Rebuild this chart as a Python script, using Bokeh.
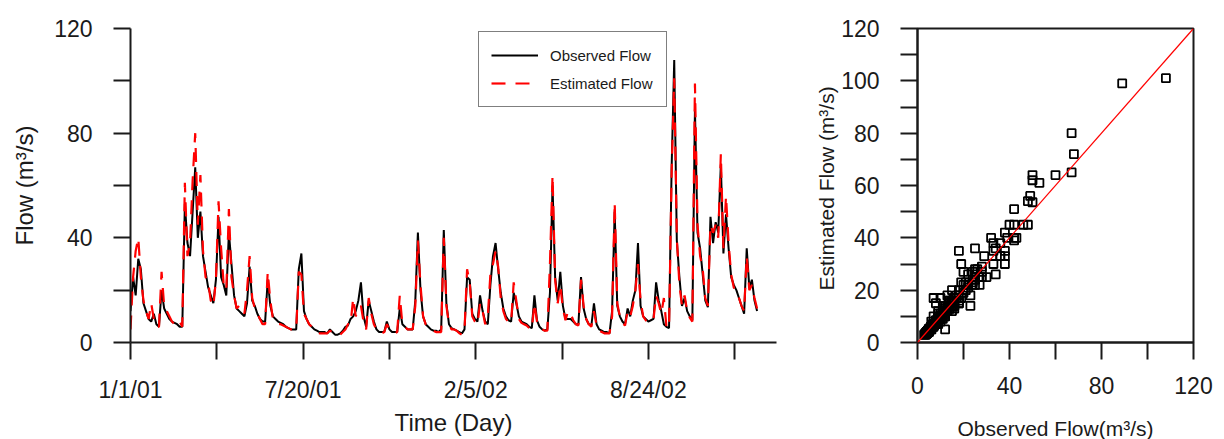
from bokeh.plotting import figure
from bokeh.layouts import row
from bokeh.models import FixedTicker, Legend, LegendItem, ColumnDataSource, Range1d, Slope
from bokeh.embed import file_html
from bokeh.resources import INLINE

# ---------------- data ----------------
# day index (days since 1/1/01), sampled every 3 days
day = [3 * k for k in range(243)]

observed = [
    12, 25, 18, 32, 28, 15, 12, 9, 8, 11,
    7, 6, 20, 13, 11, 9, 8, 7.5, 7, 6,
    6, 53, 38, 33, 50, 67, 40, 50, 33, 27,
    21, 18, 15, 24, 48, 25, 22, 18, 42, 30,
    18, 13, 12, 11, 10, 15, 29, 16, 14, 11,
    9, 8, 8, 24, 14, 10, 9, 8, 7.5, 7,
    6, 5.5, 5, 5, 5, 28, 34, 12, 9, 7,
    6, 5, 4.5, 4, 4, 4, 3.5, 5, 4, 3,
    3, 3.5, 4.5, 6, 6.5, 9, 10, 12, 16, 23,
    10, 6, 16, 12, 8, 5, 4, 4, 4, 8,
    5, 4, 4, 4, 13, 7, 6, 5, 5, 5,
    16, 42, 20, 10, 7, 6, 5, 4.5, 4.5, 4,
    5, 43, 15, 7, 5.5, 5, 4.5, 4, 3.5, 5,
    25, 24, 11, 9, 8, 18, 12, 8, 7, 22,
    33, 38, 28, 19, 13, 10, 8.5, 8, 19, 15,
    10, 8, 7.5, 7, 6, 5.5, 18, 8.5, 6, 5,
    4.5, 5, 19, 60, 25, 16, 27, 14, 9, 9,
    9, 8, 7, 7, 25, 13, 9, 7, 6.5, 15,
    7, 5, 4.5, 4, 4, 3.5, 12, 50, 14, 10,
    8, 7, 13, 10, 16, 20, 38, 14, 10, 9,
    8, 8.5, 9, 23, 16, 12, 7, 6, 5.5, 67,
    108, 39, 25, 14, 17, 12, 10, 8.5, 89, 42,
    36, 26, 16, 13.5, 48, 38, 46, 42, 68, 34,
    49, 36, 25, 22, 20, 17, 14, 11, 36, 21,
    24, 16, 12,
]

estimated = [
    5, 25, 35, 40, 25, 16, 12, 9, 15, 9,
    6, 6, 27, 14, 12, 10, 8, 7, 6.5, 8,
    6, 61, 33, 38, 62, 80, 45, 64, 35, 25,
    23, 16, 14, 24, 54, 36, 22, 20, 51, 25,
    18, 13, 14, 14, 11, 20, 33, 17, 13, 11,
    9, 7, 7, 27, 16, 9, 8, 7, 7, 6.5,
    6, 5.5, 5, 5, 5, 27, 26, 11, 9, 7,
    6, 5, 4, 3.5, 3.5, 3.5, 3.5, 4.5, 4, 3,
    3, 3, 4, 5, 7, 7, 17, 10, 13, 14,
    8, 5, 17, 11, 7, 5, 4, 3.5, 4, 7,
    5, 4, 3.5, 4, 18, 7, 6, 5, 5, 5,
    14, 39, 22, 10, 7, 6, 5, 4.5, 4, 4,
    4, 40, 14, 7, 5, 5, 4.5, 3.5, 3, 4.5,
    28, 23, 10, 8, 7, 15, 12, 7, 10, 26,
    30, 35, 29, 17, 12, 9, 8, 7.5, 23, 16,
    9, 7.5, 7, 6.5, 5.5, 5, 15, 8, 5.5, 5,
    4.5, 4.5, 30, 64, 24, 15, 22, 13, 8.5, 12,
    11, 8.5, 7, 6.5, 24, 14, 9, 7, 6, 12,
    6.5, 4.5, 4, 3.5, 3.5, 3.5, 10, 53.6, 15, 10,
    7.5, 6.5, 12, 10, 14, 20, 30, 16, 10, 8.5,
    7.5, 8, 9, 18, 15, 11, 17, 6, 5.5, 65,
    101, 40, 22, 14, 18, 12, 9.5, 8, 99, 45,
    33, 28, 17, 14, 45, 42, 45, 40, 72, 36,
    56, 38, 26, 21, 19, 17, 14, 12, 33, 20,
    22, 17, 13,
]

time_ticks = [0, 200, 400, 600]
time_minor = [100, 300, 500, 700]
time_labels = ["1/1/01", "7/20/01", "2/5/02", "8/24/02"]
flow_ticks = [0, 40, 80, 120]
flow_minor = [20, 60, 100]
est_ticks = [0, 20, 40, 60, 80, 100, 120]
est_minor = [10, 30, 50, 70, 90, 110]

FONT = "Liberation Sans"
INK = "#1a1a1a"

src = ColumnDataSource(data=dict(day=day, observed=observed, estimated=estimated))


def style_axis(ax, tick_size="23px"):
    ax.axis_line_color = INK
    ax.axis_line_width = 2
    ax.major_tick_line_color = INK
    ax.minor_tick_line_color = INK
    ax.major_tick_line_width = 2
    ax.minor_tick_line_width = 2
    ax.major_tick_in = 0
    ax.minor_tick_in = 0
    ax.major_tick_out = 17
    ax.minor_tick_out = 17
    ax.major_label_text_font = FONT
    ax.major_label_text_font_size = tick_size
    ax.major_label_text_color = INK
    ax.axis_label_text_font = FONT
    ax.axis_label_text_font_style = "normal"
    ax.axis_label_text_color = INK


# ---------------- left: time series ----------------
p1 = figure(frame_width=646, frame_height=314, min_border_left=130, min_border_top=28,
            min_border_bottom=97, min_border_right=14,
            x_range=Range1d(0, 748.5), y_range=Range1d(0, 120),
            output_backend="svg", toolbar_location=None, tools="")
p1.outline_line_color = None
p1.xgrid.visible = False
p1.ygrid.visible = False
p1.background_fill_color = "white"
p1.border_fill_color = "white"

r_obs = p1.line("day", "observed", source=src, line_color="black", line_width=2)
r_est = p1.line("day", "estimated", source=src, line_color="#ff0000", line_width=2.2,
                line_dash="14 10")

xa = p1.xaxis[0]
xa.ticker = FixedTicker(ticks=time_ticks, minor_ticks=time_minor)
xa.major_label_overrides = {t: l for t, l in zip(time_ticks, time_labels)}
xa.axis_label = "Time (Day)"
xa.axis_label_text_font_size = "24px"
style_axis(xa)
xa.major_label_standoff = 17
xa.axis_label_standoff = 3

ya = p1.yaxis[0]
ya.ticker = FixedTicker(ticks=flow_ticks, minor_ticks=flow_minor)
ya.axis_label = "Flow (m³/s)"
ya.axis_label_text_font_size = "24px"
style_axis(ya)
ya.major_label_standoff = 21
ya.axis_label_standoff = 13

legend = Legend(items=[LegendItem(label="Observed Flow", renderers=[r_obs]),
                       LegendItem(label="Estimated Flow", renderers=[r_est])],
                location=(348, 235), border_line_color="black", border_line_width=1.5,
                padding=12, spacing=6, glyph_width=47, glyph_height=22,
                label_standoff=12, label_width=104, margin=0,
                label_text_font=FONT, label_text_font_size="15px",
                label_text_color=INK, background_fill_color="white",
                background_fill_alpha=1)
p1.add_layout(legend)

# ---------------- right: scatter ----------------
p2 = figure(frame_width=276, frame_height=314, min_border_left=127, min_border_top=28,
            min_border_bottom=97, min_border_right=23,
            x_range=Range1d(0, 120), y_range=Range1d(0, 120),
            output_backend="svg", toolbar_location=None, tools="")
p2.outline_line_color = INK
p2.outline_line_width = 2
p2.xgrid.visible = False
p2.ygrid.visible = False
p2.background_fill_color = "white"
p2.border_fill_color = "white"

p2.scatter("observed", "estimated", source=src, marker="square", size=8,
           fill_color=None, line_color="black", line_width=1.8)
p2.add_layout(Slope(gradient=1, y_intercept=0, line_color="#ff0000", line_width=1.2))

xb = p2.xaxis[0]
xb.ticker = FixedTicker(ticks=flow_ticks, minor_ticks=flow_minor)
xb.axis_label = "Observed Flow(m³/s)"
xb.axis_label_text_font_size = "21px"
style_axis(xb)
xb.major_label_standoff = 17
xb.axis_label_standoff = 20

yb = p2.yaxis[0]
yb.ticker = FixedTicker(ticks=est_ticks, minor_ticks=est_minor)
yb.axis_label = "Estimated Flow  (m³/s)"
yb.axis_label_text_font_size = "21px"
style_axis(yb)
yb.major_label_standoff = 21
yb.axis_label_standoff = 0

layout = row(p1, p2)
open("out.html", "w").write(file_html(layout, INLINE))
